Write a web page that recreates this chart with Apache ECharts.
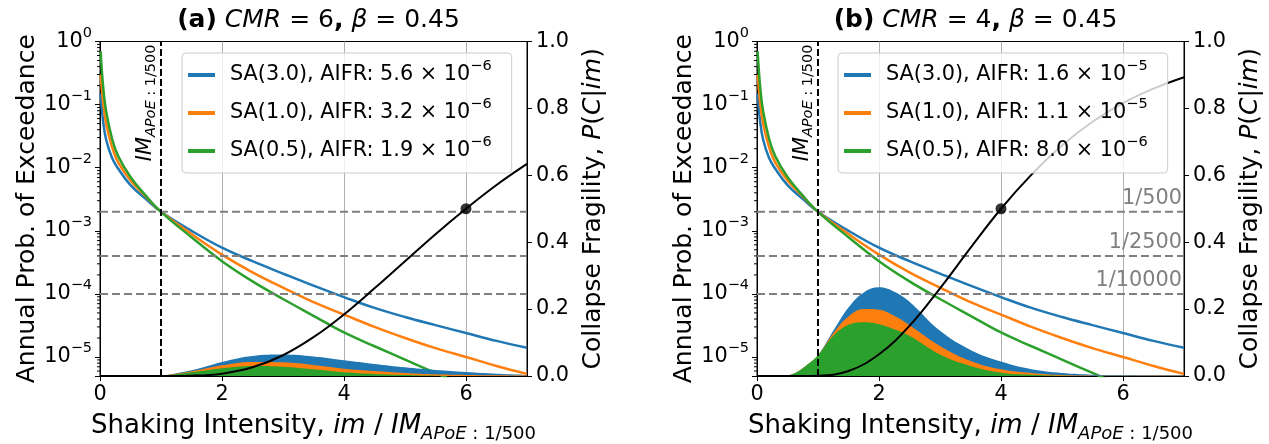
<!DOCTYPE html>
<html>
<head>
<meta charset="utf-8">
<script src="https://cdn.jsdelivr.net/npm/echarts@6/dist/echarts.min.js"></script>
<style>
  html, body { margin: 0; padding: 0; background: #fff; }
  #chart { width: 1269px; height: 444px; }
</style>
</head>
<body>
<div id="chart"></div>
<script>
const FONT = 'DejaVu Sans';
const COLORS = ['#1f77b4', '#ff7f0e', '#2ca02c'];

// hazard curves, same site in both panels (annual prob. of exceedance)
const hazardX = [0.01, 0.05, 0.1, 0.2, 0.3, 0.5, 0.75, 1, 1.5, 2, 2.5, 3, 3.5, 4, 4.5, 5, 5.5, 6, 6.5, 7];
const hazardSa30 = [0.15, 0.056, 0.028, 0.0141, 0.0096, 0.0053, 0.0032, 0.002, 0.001, 5.4e-4, 3.3e-4, 2.1e-4, 1.35e-4, 8.9e-5, 6.0e-5, 4.3e-5, 3.2e-5, 2.4e-5, 1.8e-5, 1.4e-5];
const hazardSa10 = [0.3, 0.112, 0.05, 0.0209, 0.012, 0.0063, 0.0035, 0.002, 8.9e-4, 4.2e-4, 2.2e-4, 1.26e-4, 7.4e-5, 4.7e-5, 3.0e-5, 2.0e-5, 1.38e-5, 1.0e-5, 7.2e-6, 5.4e-6];
const hazardSa05 = [0.7, 0.2, 0.079, 0.0282, 0.0151, 0.0071, 0.0036, 0.002, 7.9e-4, 3.3e-4, 1.58e-4, 8.3e-5, 4.5e-5, 2.45e-5, 1.48e-5, 9.1e-6, 5.6e-6, 3.5e-6, 2.3e-6, 1.6e-6];
const imNames = ['SA(3.0)', 'SA(1.0)', 'SA(0.5)'];

// panel (a): CMR = 6
const aifrA = ['5.6', '3.2', '1.9'];
const aifrExpA = [-6, -6, -6];
const fragXA = [0, 1, 1.5, 2, 2.5, 3, 3.5, 4, 4.5, 5, 5.5, 6, 6.5, 7];
const fragA = [0, 0, 0.001, 0.007, 0.026, 0.062, 0.116, 0.184, 0.262, 0.343, 0.424, 0.5, 0.571, 0.634];
const disaggXA = [1.0, 1.5, 2.0, 2.5, 3.0, 3.5, 4.0, 4.5, 5.0, 5.5, 6.0, 6.5, 7.0];
const disaggA30 = [0, 0.017, 0.042, 0.06, 0.064, 0.058, 0.047, 0.036, 0.026, 0.018, 0.012, 0.007, 0.004];
const disaggA10 = [0, 0.014, 0.032, 0.042, 0.041, 0.033, 0.022, 0.015, 0.009, 0.005, 0.003, 0.002, 0.001];
const disaggA05 = [0, 0.011, 0.023, 0.03, 0.028, 0.02, 0.011, 0.006, 0.003, 0.001, 0, 0, 0];

// panel (b): CMR = 4
const aifrB = ['1.6', '1.1', '8.0'];
const aifrExpB = [-5, -5, -6];
const fragXB = [0, 0.5, 1, 1.5, 2, 2.5, 3, 3.5, 4, 4.5, 5, 5.5, 6, 6.5, 7];
const fragB = [0, 0, 0.001, 0.015, 0.065, 0.15, 0.262, 0.383, 0.5, 0.602, 0.689, 0.76, 0.816, 0.859, 0.893];
const disaggXB = [0.4, 0.6, 0.8, 1.0, 1.25, 1.5, 1.75, 2.0, 2.25, 2.5, 3.0, 3.5, 4.0, 4.5, 5.0, 5.5, 6.0, 7.0];
const disaggB30 = [0, 0.007, 0.03, 0.062, 0.135, 0.205, 0.25, 0.265, 0.252, 0.222, 0.135, 0.078, 0.043, 0.02, 0.009, 0.004, 0.002, 0.0005];
const disaggB10 = [0, 0.007, 0.03, 0.062, 0.128, 0.178, 0.2, 0.198, 0.18, 0.152, 0.09, 0.045, 0.02, 0.009, 0.003, 0.001, 0.0005, 0];
const disaggB05 = [0, 0.007, 0.03, 0.062, 0.12, 0.153, 0.161, 0.155, 0.14, 0.12, 0.064, 0.03, 0.01, 0.004, 0.001, 0, 0, 0];

const levelValues = [1 / 500, 1 / 2500, 1 / 10000];
const levelLabels = ['1/500', '1/2500', '1/10000'];
const imRefValue = 1;
const minorTickValues = [6e-6, 7e-6, 8e-6, 9e-6].concat(
  [-5, -4, -3, -2, -1].flatMap((e) => [2, 3, 4, 5, 6, 7, 8, 9].map((m) => m * Math.pow(10, e))),
);

const panels = [
  { tag: '(a)', cmr: 6, beta: 0.45, median: 6, aifr: aifrA, aifrExp: aifrExpA,
    fragX: fragXA, frag: fragA, disX: disaggXA, dis: [disaggA30, disaggA10, disaggA05],
    left: 100, legendLeft: 182, levelText: false },
  { tag: '(b)', cmr: 4, beta: 0.45, median: 4, aifr: aifrB, aifrExp: aifrExpB,
    fragX: fragXB, frag: fragB, disX: disaggXB, dis: [disaggB30, disaggB10, disaggB05],
    left: 757, legendLeft: 838, levelText: true },
];

const zip = (xs, ys) => xs.map((x, k) => [x, ys[k]]);
const minus = (n) => (n < 0 ? '\u2212' + -n : String(n));
const txt = (size, extra) => Object.assign({ fontFamily: FONT, fontSize: size, color: '#000', fontWeight: 'normal' }, extra);

const TICK = 20.8;
const supRich = {
  b: txt(TICK, { lineHeight: 23 }),
  s: txt(14.5, { lineHeight: 14.5, padding: [0, 0, 17, 0] }),
};
const subRich = (size, subSize, drop) => ({
  n: txt(size, { lineHeight: size + 4 }),
  i: txt(size, { lineHeight: size + 4, fontStyle: 'italic' }),
  si: txt(subSize, { lineHeight: subSize, fontStyle: 'italic', padding: [drop, 0, 0, 0] }),
  sn: txt(subSize, { lineHeight: subSize, padding: [drop, 0, 0, 0] }),
});
const imRef = '{i|IM}{si|APoE}{sn| : 1/500}';

const axisLine = { show: true, lineStyle: { color: '#000', width: 1 } };
const axisTick = { show: true, length: 5, lineStyle: { color: '#000', width: 1 } };

const grids = [], xAxes = [], yAxes = [], series = [], legends = [], titles = [];

panels.forEach((p, i) => {
  grids.push({ left: p.left, width: 427, top: 41.5, height: 334.5, show: true,
    outerBoundsMode: 'none', containLabel: false,
    borderColor: '#000', borderWidth: 1, backgroundColor: 'transparent' });

  titles.push({
    text: `{b|${p.tag}} {i|CMR}{n| = ${p.cmr}}{b|,} {i|\u03b2}{n| = ${p.beta}}`,
    left: p.left + 213.5, top: 3, textAlign: 'center',
    textStyle: { fontFamily: FONT, fontSize: 25, fontWeight: 'normal', rich: {
      b: txt(25, { fontWeight: 'bold' }), i: txt(25, { fontStyle: 'italic' }), n: txt(25) } },
  });

  xAxes.push({
    gridIndex: i, type: 'value', min: 0, max: 7, interval: 2,
    axisLine, axisTick,
    axisLabel: txt(TICK, { margin: 8, showMaxLabel: false }),
    splitLine: { show: true, lineStyle: { color: '#b0b0b0', width: 1 } },
    name: '{n|Shaking Intensity, }{i|im}{n| / }' + imRef,
    nameLocation: 'middle', nameGap: 31,
    nameTextStyle: { fontFamily: FONT, fontSize: 26, rich: subRich(26, 18, 15) },
  });

  yAxes.push({
    gridIndex: i, type: 'log', logBase: 10, min: 5e-6, max: 1, position: 'left',
    axisLine, axisTick, splitLine: { show: false },
    axisLabel: {
      margin: 8,
      formatter: (v) => {
        const e = Math.round(Math.log10(v));
        if (Math.abs(Math.log10(v) - e) > 1e-6) return '';
        return `{b|10}{s|${minus(e)}}`;
      },
      rich: supRich,
    },
    name: 'Annual Prob. of Exceedance', nameLocation: 'middle', nameGap: 54,
    nameTextStyle: txt(25),
  });
  yAxes.push({
    gridIndex: i, type: 'value', min: 0, max: 1, interval: 0.2, position: 'right',
    axisLine, axisTick, splitLine: { show: false },
    axisLabel: txt(TICK, { margin: 9, formatter: (v) => v.toFixed(1) }),
    name: '{n|Collapse Fragility, }{i|P}{n|(}{i|C}{n||}{i|im}{n|)}',
    nameLocation: 'middle', nameGap: 52, nameRotate: 90,
    nameTextStyle: { fontFamily: FONT, fontSize: 25, rich: subRich(25, 17.5, 15) },
  });

  const names = imNames.map((im, k) => `${im}, AIFR: ${p.aifr[k]} \u00d7 10^${minus(p.aifrExp[k])}`);
  [hazardSa30, hazardSa10, hazardSa05].forEach((h, k) => {
    series.push({
      type: 'line', name: names[k], xAxisIndex: i, yAxisIndex: 2 * i,
      data: zip(hazardX, h), showSymbol: false, smooth: 0.4,
      lineStyle: { width: 2.5, color: COLORS[k] }, itemStyle: { color: COLORS[k] }, z: 2,
    });
  });

  // log minor ticks on the left axis
  series.push({
    type: 'custom', xAxisIndex: i, yAxisIndex: 2 * i, silent: true, z: 6,
    data: minorTickValues.map((v) => [0, v]),
    renderItem: (params, api) => {
      const pt = api.coord([api.value(0), api.value(1)]);
      return { type: 'line', shape: { x1: pt[0] - 3, y1: pt[1], x2: pt[0], y2: pt[1] },
        style: { stroke: '#000', lineWidth: 1 } };
    },
  });

  // hazard levels: dashed grey lines across the panel
  levelValues.forEach((v, k) => {
    series.push({
      type: 'line', xAxisIndex: i, yAxisIndex: 2 * i, silent: true, z: 3,
      data: [[0, v], [7, v]], showSymbol: false,
      lineStyle: { color: '#808080', width: 2, type: [8, 4] },
      endLabel: { show: p.levelText, formatter: levelLabels[k], align: 'right',
        verticalAlign: 'bottom', offset: [-10, -3], fontFamily: FONT, fontSize: TICK, color: '#808080' },
    });
  });

  // IM at 1/500: dashed black vertical line
  series.push({
    type: 'line', xAxisIndex: i, yAxisIndex: 2 * i, data: [], z: 3,
    markLine: {
      silent: true, symbol: 'none', animation: false,
      data: [{
        xAxis: imRefValue,
        lineStyle: { color: '#000', width: 2, type: [7, 3] },
        label: { show: true, position: 'insideEndTop', distance: [3, 3], formatter: imRef,
          fontFamily: FONT, fontSize: TICK, color: '#000', rich: subRich(TICK, 14.5, 12) },
      }],
    },
  });

  p.dis.forEach((d, k) => {
    series.push({
      type: 'line', xAxisIndex: i, yAxisIndex: 2 * i + 1, data: zip(p.disX, d),
      showSymbol: false, smooth: 0.4, lineStyle: { width: 0 },
      areaStyle: { color: COLORS[k], opacity: 1 }, z: 4,
    });
  });

  series.push({
    type: 'line', xAxisIndex: i, yAxisIndex: 2 * i + 1, data: zip(p.fragX, p.frag),
    showSymbol: false, smooth: 0.4,
    lineStyle: { width: 2, color: '#000' }, z: 5,
  });
  series.push({
    type: 'scatter', xAxisIndex: i, yAxisIndex: 2 * i + 1, data: [[p.median, 0.5]],
    symbolSize: 11, itemStyle: { color: '#000' }, z: 5,
  });

  legends.push({
    data: names, left: p.legendLeft, top: 53, orient: 'vertical',
    icon: 'rect', itemWidth: 27, itemHeight: 4, itemGap: 6,
    padding: [6, 20, 6, 6], selectedMode: false, z: 10,
    backgroundColor: 'rgba(255,255,255,0.8)', borderColor: '#cccccc', borderWidth: 1, borderRadius: 4,
    formatter: (name) => {
      const [t, s] = name.split('^');
      return `{t|${t}}{s|${s}}`;
    },
    textStyle: { fontFamily: FONT, fontSize: TICK, padding: [0, 0, 0, 10], rich: {
      t: txt(TICK, { lineHeight: 23 }),
      s: txt(14.5, { lineHeight: 14.5, padding: [0, 0, 17, 0] }),
    } },
  });
});

const chart = echarts.init(document.getElementById('chart'), null, { renderer: 'canvas' });
chart.setOption({
  animation: false,
  backgroundColor: '#fff',
  title: titles,
  grid: grids,
  xAxis: xAxes,
  yAxis: yAxes,
  legend: legends,
  series,
});
</script>
</body>
</html>
